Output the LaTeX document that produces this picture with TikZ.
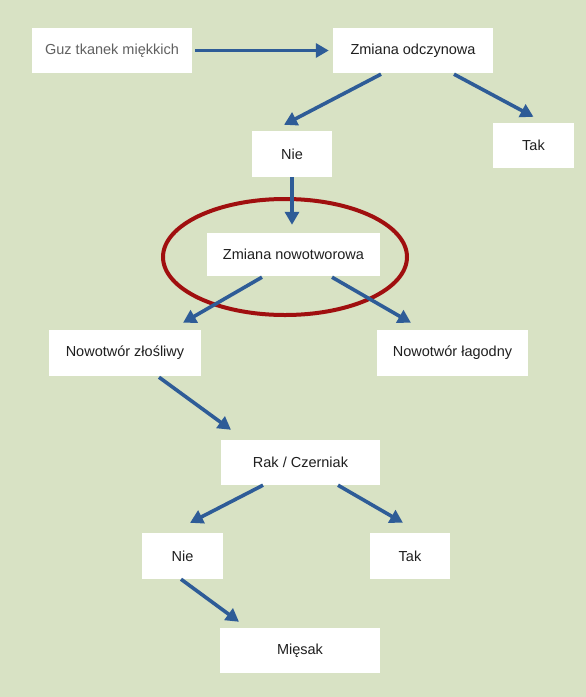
\documentclass[tikz,border=0pt]{standalone}
\usepackage{fontspec}
\setmainfont{Liberation Sans}
\usepackage{tikz}
\usetikzlibrary{calc}
\usetikzlibrary{positioning}
\usetikzlibrary{arrows.meta}

\definecolor{bggreen}{HTML}{D8E2C4}
\definecolor{arrblue}{HTML}{2E5C97}
\definecolor{ringred}{HTML}{A00F0F}

\begin{document}
\begin{tikzpicture}[x=1pt,y=-1pt,
        box/.style={fill=white,inner sep=0pt,minimum height=45pt,text=black!88,font=\fontsize{14.5}{17}\selectfont},
        arr/.style={draw=arrblue,line width=3.6pt,-{Triangle[length=13pt,width=14pt]}}]
        \fill[bggreen] (0,0) rectangle (586,697);
        \useasboundingbox (0,0) rectangle (586,697);
        \node[box,minimum width=160pt,text=black!62] (guz) at (112,50.5) {Guz tkanek miękkich};
        \node[box,minimum width=160pt] (odcz) at (413,50.5) {Zmiana odczynowa};
        \node[box,minimum width=80pt,minimum height=46pt] (nie1) at (292,154) {Nie};
        \node[box,minimum width=81pt] (tak1) at (533.5,145.5) {Tak};
        \node[box,minimum width=173pt,minimum height=43pt] (nowo) at (293.5,254.5) {Zmiana nowotworowa};
        \node[box,minimum width=152pt,minimum height=46pt] (zlo) at (125,353) {Nowotwór złośliwy};
        \node[box,minimum width=151pt,minimum height=46pt] (lag) at (452.5,353) {Nowotwór łagodny};
        \node[box,minimum width=159pt] (rak) at (300.5,462.5) {Rak / Czerniak};
        \node[box,minimum width=81pt,minimum height=46pt] (nie2) at (182.5,556) {Nie};
        \node[box,minimum width=80pt,minimum height=46pt] (tak2) at (410,556) {Tak};
        \node[box,minimum width=160pt] (miesak) at (300,650.5) {Mięsak};
        \draw[ringred,line width=4pt] (285,257) ellipse [x radius=122,y radius=58];
        \draw[arr,shorten <=3pt,shorten >=4pt] (guz.east) -- (odcz.west);
        \draw[arr] ($(odcz.south)+(-32,1)$) -- ($(nie1.north)+(-8,-6)$);
        \draw[arr] ($(odcz.south)+(41,1)$) -- ($(tak1.north)+(0,-6)$);
        \draw[arr] (nie1.south) -- ($(nowo.north)+(-1.5,-8)$);
        \draw[arr] ($(nowo.south)+(-31.5,1)$) -- ($(zlo.north)+(58,-7)$);
        \draw[arr] ($(nowo.south)+(38.5,1)$) -- ($(lag.north)+(-41.5,-7)$);
        \draw[arr] ($(zlo.south)+(34,1)$) -- ($(rak.north)+(-69.5,-10)$);
        \draw[arr] ($(rak.south)+(-37.5,0)$) -- ($(nie2.north)+(7.5,-10)$);
        \draw[arr] ($(rak.south)+(37.5,0)$) -- ($(tak2.north)+(-7,-10)$);
        \draw[arr] ($(nie2.south)+(-1.5,0)$) -- ($(miesak.north)+(-61,-6)$);
    \end{tikzpicture}
\end{document}
